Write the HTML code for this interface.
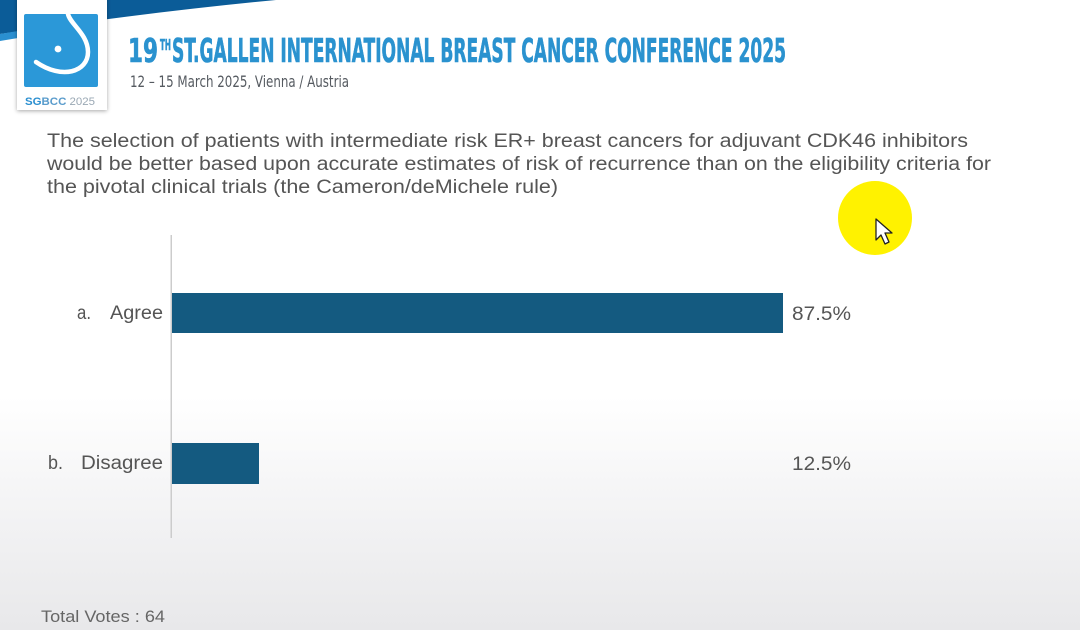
<!DOCTYPE html>
<html>
<head>
<meta charset="utf-8">
<style>
  html,body{margin:0;padding:0;background:#fff;}
  body{width:1080px;height:630px;overflow:hidden;}
  svg{display:block;}
</style>
</head>
<body>
<svg width="1080" height="630" viewBox="0 0 1080 630" xmlns="http://www.w3.org/2000/svg">
  <defs>
    <linearGradient id="bg" x1="0" y1="0" x2="0" y2="1">
      <stop offset="0" stop-color="#ffffff"/>
      <stop offset="0.63" stop-color="#ffffff"/>
      <stop offset="0.8" stop-color="#f4f4f5"/>
      <stop offset="1" stop-color="#e8e8ea"/>
    </linearGradient>
    <filter id="sh" x="-20%" y="-20%" width="140%" height="140%">
      <feGaussianBlur in="SourceAlpha" stdDeviation="2"/>
      <feOffset dx="0" dy="1"/>
      <feComponentTransfer><feFuncA type="linear" slope="0.35"/></feComponentTransfer>
      <feMerge><feMergeNode/><feMergeNode in="SourceGraphic"/></feMerge>
    </filter>
  </defs>
  <rect x="0" y="0" width="1080" height="630" fill="url(#bg)"/>

  <!-- top band -->
  <path d="M0,0 L276,0 Q150,12 0,34 Z" fill="#0b5c98"/>
  <path d="M0,34 L18,31 L18,38 L0,41 Z" fill="#2a8fd0"/>

  <!-- logo card -->
  <rect x="17" y="-6" width="90" height="116" fill="#ffffff" filter="url(#sh)"/>
  <rect x="24" y="14" width="74" height="73" rx="2" fill="#2b98d8"/>
  <path d="M68,14 C70,24 88,34 88,52 C88,72 62,80 36,62" fill="none" stroke="#ffffff" stroke-width="4.5" stroke-linecap="round"/>
  <circle cx="58" cy="49" r="3.4" fill="#ffffff"/>
  <text x="25" y="105" font-family="Liberation Sans, sans-serif" font-size="11" textLength="70" lengthAdjust="spacingAndGlyphs"><tspan fill="#2b8fd0" font-weight="bold">SG</tspan><tspan fill="#5a9ccc" font-weight="bold">BCC</tspan><tspan fill="#9aa8b4"> 2025</tspan></text>

  <!-- title -->
  <g font-family="'Liberation Sans Narrow','DejaVu Sans Condensed','Liberation Sans',sans-serif" font-weight="bold" fill="#2a92cf" stroke="#2a92cf" stroke-width="0.6">
    <text x="128" y="62" font-size="33" textLength="30" lengthAdjust="spacingAndGlyphs">19</text>
    <text x="160" y="50" font-size="15" textLength="11" lengthAdjust="spacingAndGlyphs">TH</text>
    <text x="172" y="62" font-size="33" textLength="614" lengthAdjust="spacingAndGlyphs">ST.GALLEN INTERNATIONAL BREAST CANCER CONFERENCE 2025</text>
  </g>
  <text x="130" y="87" font-family="'Liberation Sans Narrow','DejaVu Sans Condensed','Liberation Sans',sans-serif" font-size="16" fill="#555a60" textLength="219" lengthAdjust="spacingAndGlyphs">12 – 15 March 2025, Vienna / Austria</text>

  <!-- question -->
  <g font-family="'Liberation Sans',sans-serif" font-size="19" fill="#555555">
    <text x="47" y="147" textLength="921" lengthAdjust="spacingAndGlyphs">The selection of patients with intermediate risk ER+ breast cancers for adjuvant CDK46 inhibitors</text>
    <text x="47" y="170" textLength="944" lengthAdjust="spacingAndGlyphs">would be better based upon accurate estimates of risk of recurrence than on the eligibility criteria for</text>
    <text x="47" y="193" textLength="511" lengthAdjust="spacingAndGlyphs">the pivotal clinical trials (the Cameron/deMichele rule)</text>
  </g>

  <!-- axis -->
  <rect x="170.5" y="235" width="1.5" height="303" fill="#cccccc"/>

  <!-- bars -->
  <rect x="172" y="293" width="611" height="40" fill="#145a80"/>
  <rect x="172" y="443" width="87" height="41" fill="#145a80"/>

  <!-- labels -->
  <g font-family="'Liberation Sans',sans-serif" font-size="19" fill="#555555">
    <text x="77" y="319" textLength="14" lengthAdjust="spacingAndGlyphs">a.</text>
    <text x="110" y="319" textLength="53" lengthAdjust="spacingAndGlyphs">Agree</text>
    <text x="48" y="469" textLength="15" lengthAdjust="spacingAndGlyphs">b.</text>
    <text x="81" y="469" textLength="82" lengthAdjust="spacingAndGlyphs">Disagree</text>
    <text x="792" y="320" textLength="59" lengthAdjust="spacingAndGlyphs">87.5%</text>
    <text x="792" y="470" textLength="59" lengthAdjust="spacingAndGlyphs">12.5%</text>
  </g>

  <!-- footer -->
  <text x="41" y="622" font-family="'Liberation Sans',sans-serif" font-size="17" fill="#666666" textLength="124" lengthAdjust="spacingAndGlyphs">Total Votes : 64</text>

  <!-- pointer highlight -->
  <circle cx="875" cy="218" r="37" fill="#fff200"/>
  <path d="M876,219 L876,240 L881,235 L885,244 L889,242 L885,233 L892,233 Z" fill="#ffffff" stroke="#222222" stroke-width="1.3" stroke-linejoin="round"/>
</svg>
</body>
</html>
